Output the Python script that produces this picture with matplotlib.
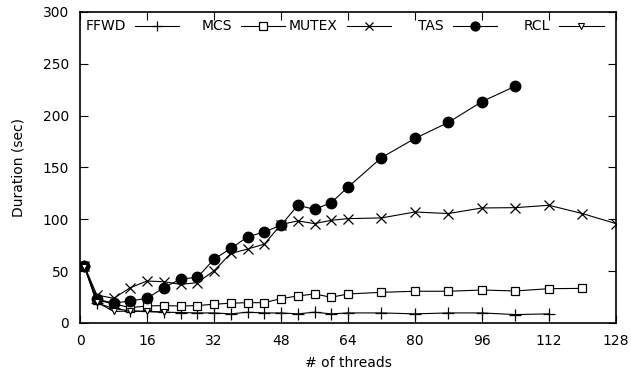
import matplotlib
matplotlib.use("Agg")
import matplotlib.pyplot as plt
from matplotlib.lines import Line2D

# thread counts used in the sweep
threads = [1, 4, 8, 12, 16, 20, 24, 28, 32, 36, 40, 44, 48, 52, 56, 60, 64,
           72, 80, 88, 96, 104, 112, 120, 128]

# duration in seconds per lock implementation
ffwd = [55, 19, 14, 11.5, 11, 10.3, 10, 9.6, 9.6, 8.7, 10.3, 9.6, 9.6, 8.7,
        10.3, 8.7, 9.6, 9.6, 8.7, 9.6, 9.6, 8, 8.7]
mcs = [55, 22, 18.3, 14.7, 16.3, 16.7, 16.3, 16.7, 18, 19, 19.5, 19.5, 23.4,
       26, 27.9, 24.7, 27.9, 29.5, 30.5, 30.5, 31.7, 30.8, 33, 33.3]
mutex = [55, 26.9, 23.7, 34, 40.4, 39.7, 37.2, 38.8, 50.3, 67, 71.2, 76,
         94.9, 98.4, 95.8, 99, 100.6, 101.3, 107, 105.5, 110.9, 111.2, 113.5,
         105.5, 95.8]
tas = [55, 23, 19, 21.2, 23.7, 34, 42.3, 43.9, 61.5, 71.8, 83, 87.8, 94.2,
       113.5, 109.6, 116, 131, 159.5, 178, 193.5, 213.5, 228.5]
rcl = [54, 20, 11, 11.5, 11, 10.5]

labels = ['FFWD', 'MCS', 'MUTEX', 'TAS', 'RCL']
series = [ffwd, mcs, mutex, tas, rcl]
styles = [
    dict(marker='+', ms=8, mew=0.9),
    dict(marker='s', ms=6, mfc='white', mew=0.9),
    dict(marker='x', ms=7, mew=0.9),
    dict(marker='o', ms=7.5),
    dict(marker='v', ms=5, mfc='white', mew=0.8),
]

plt.rcParams['font.family'] = 'DejaVu Sans'
plt.rcParams['font.size'] = 10

fig = plt.figure(figsize=(6.31, 3.75), dpi=100)
ax = fig.add_axes([0.127, 0.139, 0.849, 0.829])

lw = 0.8
for name, ys, st in zip(labels, series, styles):
    ax.plot(threads[:len(ys)], ys, '-', color='black', lw=lw, label=name, **st)

ax.set_xlim(0, 128)
ax.set_ylim(0, 300)
ax.set_xticks(range(0, 129, 16))
ax.set_yticks(range(0, 301, 50))
ax.tick_params(direction='in', length=6, width=0.8, top=True, right=True,
               pad=8)
for s in ax.spines.values():
    s.set_linewidth(1.2)

ax.set_xlabel('# of threads', labelpad=6)
ax.set_ylabel('Duration (sec)', labelpad=12)

# gnuplot-style key: right-justified titles, sample line with one marker
key_y = 0.955
col_w = 0.198
sample_len = 0.083
for i, (name, st) in enumerate(zip(labels, styles)):
    x0 = 0.102 + i * col_w
    ax.text(x0 - 0.017, key_y, name, transform=ax.transAxes,
            ha='right', va='center')
    ax.add_line(Line2D([x0, x0 + sample_len], [key_y, key_y],
                       transform=ax.transAxes, color='black', lw=lw))
    kst = dict(st)
    kst['ms'] = kst['ms'] * 0.85
    ax.add_line(Line2D([x0 + sample_len / 2], [key_y], transform=ax.transAxes,
                       color='black', ls='none', **kst))

fig.savefig('out.png', dpi=100)
